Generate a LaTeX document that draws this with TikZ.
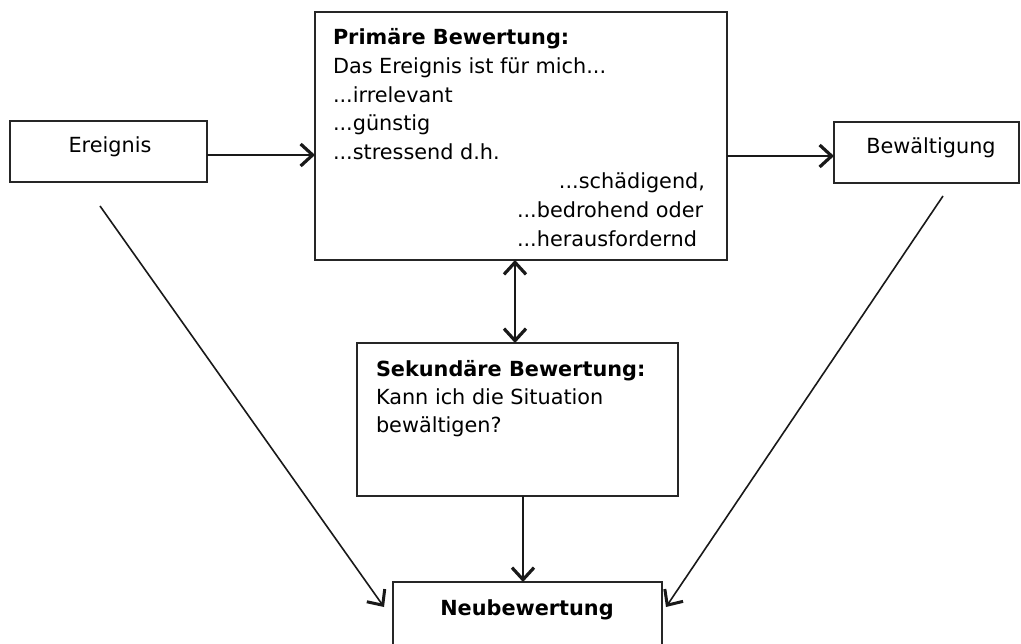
\documentclass[tikz,border=0pt]{standalone}
\usepackage{fontspec}
\setmainfont{DejaVu Sans}
\usetikzlibrary{arrows.meta}
\tikzset{
  box/.style={draw=black!85, line width=1.9pt, inner sep=0pt, outer sep=0pt, fill=white},
  txt/.style={inner sep=0pt, outer sep=0pt, font=\fontsize{20.8}{24}\selectfont},
  btxt/.style={txt, font=\fontsize{20.8}{24}\selectfont\bfseries},
  tip/.style={},
  conn/.style={line width=1.9pt, draw=black!90, -{Straight Barb[length=12pt,width=22pt,line width=3.2pt]}},
  dconn/.style={line width=1.9pt, draw=black!90, {Straight Barb[length=12pt,width=22pt,line width=3.2pt]}-{Straight Barb[length=12pt,width=22pt,line width=3.2pt]}},
  diag/.style={line width=1.6pt, draw=black!90, -{Straight Barb[length=12pt,width=22pt,line width=3pt]}}
}
\begin{document}
\begin{tikzpicture}[x=1pt,y=-1pt]
\useasboundingbox (0,0) rectangle (1021,644);
\clip (0,0) rectangle (1021,644);
\fill[white] (0,0) rectangle (1021,644);
% boxes
\node[box, minimum width=197pt, minimum height=61pt] (ereignis) at (108.5,151.5) {};
\node[box, minimum width=412pt, minimum height=248pt] (prim) at (521,136) {};
\node[box, minimum width=185pt, minimum height=61pt] (bew) at (926.5,152.5) {};
\node[box, minimum width=321pt, minimum height=153pt] (sek) at (517.5,419.5) {};
\node[box, minimum width=269pt, minimum height=98pt] (neu) at (527.5,631) {};
% texts
\node[txt, anchor=base] (tE) at (110,153) {Ereignis};
\node[txt, anchor=base] (tB) at (931,154) {Bewältigung};
\node[btxt, anchor=base] (tN) at (527,615) {Neubewertung};
\node[btxt, anchor=base west] (p1) at (333,45) {Primäre Bewertung:};
\node[txt, anchor=base west] (p2) at (333,74) {Das Ereignis ist für mich...};
\node[txt, anchor=base west] (p3) at (333,103) {...irrelevant};
\node[txt, anchor=base west] (p4) at (333,131) {...günstig};
\node[txt, anchor=base west] (p5) at (333,160) {...stressend d.h.};
\node[txt, anchor=base east] (p6) at (705,189) {...schädigend,};
\node[txt, anchor=base west] (p7) at (517,218) {...bedrohend oder};
\node[txt, anchor=base west] (p8) at (517,247) {...herausfordernd};
\node[btxt, anchor=base west] (s1) at (376,377) {Sekundäre Bewertung:};
\node[txt, anchor=base west] (s2) at (376,405) {Kann ich die Situation};
\node[txt, anchor=base west] (s3) at (376,433) {bewältigen?};
% connectors
\coordinate (ya) at (0,155);
\coordinate (yb) at (0,156);
\coordinate (xd) at (515,0);
\coordinate (xs) at (523,0);
\draw[conn] (ereignis.east |- ya) -- (prim.west |- ya);
\draw[conn] (prim.east |- yb) -- (bew.west |- yb);
\draw[dconn] (prim.south -| xd) -- (sek.north -| xd);
\draw[conn] (sek.south -| xs) -- (neu.north -| xs);
\coordinate (l1) at (100,206);
\coordinate (l2) at (384,607);
\coordinate (r1) at (943,196);
\coordinate (r2) at (666,607);
\draw[diag] (l1) -- (l2);
\draw[diag] (r1) -- (r2);
\end{tikzpicture}
\end{document}
